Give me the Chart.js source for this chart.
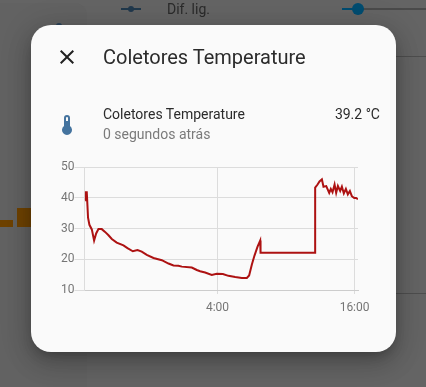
<!DOCTYPE html>
<html>
<head>
<meta charset="utf-8">
<script src="https://cdn.jsdelivr.net/npm/chart.js@4"></script>
<style>
  html, body { margin: 0; width: 426px; height: 387px; overflow: hidden; background: #646464; font-family: Roboto, sans-serif; }
  .abs { position: absolute; white-space: nowrap; }
  #dialog { position: absolute; left: 31px; top: 25px; width: 365px; height: 327px; background: #fafafa; border-radius: 20px;
    box-shadow: 0 6px 12px -4px rgba(0,0,0,.26), 0 12px 24px 2px rgba(0,0,0,.14), 0 4px 30px 4px rgba(0,0,0,.12); }
  #bgcard { position: absolute; left: -20px; top: 3px; width: 107px; height: 400px; background: #626262; border-radius: 12px; }
  #wrap { position: absolute; left: 40px; top: 150px; width: 340px; height: 170px; }
</style>
</head>
<body>
<div id="bgcard"></div>
<svg class="abs" style="left:47px;top:21px" width="24" height="24" viewBox="0 0 24 24"><path fill="#2a4258" d="M15 13V5A3 3 0 0 0 9 5V13A5 5 0 1 0 15 13Z"/></svg>
<div class="abs" style="left:121px;top:8px;width:20px;height:2px;background:#20384c"></div>
<div class="abs" style="left:128px;top:6px;width:6px;height:6px;border-radius:50%;background:#20384c"></div>
<div class="abs" style="left:167px;top:0;font-size:14px;line-height:18px;color:#2a2a2a">Dif. lig.</div>
<div class="abs" style="left:342px;top:8px;width:84px;height:2px;background:#4a4a4a"></div>
<div class="abs" style="left:342px;top:8px;width:16px;height:2px;background:#004c70"></div>
<div class="abs" style="left:352px;top:3px;width:12px;height:12px;border-radius:50%;background:#004c70"></div>
<div class="abs" style="left:396px;top:56px;width:30px;height:1px;background:#4e4e4e"></div>
<div class="abs" style="left:396px;top:293px;width:30px;height:1px;background:#4e4e4e"></div>
<div class="abs" style="left:0;top:220px;width:13px;height:7px;background:#6e4200"></div>
<div class="abs" style="left:17px;top:208px;width:14px;height:19px;background:#6e4200"></div>

<div id="dialog"></div>
<svg class="abs" style="left:55px;top:45px" width="24" height="24" viewBox="0 0 24 24"><path fill="#212121" d="M19,6.41L17.59,5L12,10.59L6.41,5L5,6.41L10.59,12L5,17.59L6.41,19L12,13.41L17.59,19L19,17.59L13.41,12L19,6.41Z"/></svg>
<div class="abs" style="left:103px;top:45px;font-size:20px;line-height:24px;color:#2b2b2b">Coletores Temperature</div>
<svg class="abs" style="left:55px;top:113px" width="24" height="24" viewBox="0 0 24 24"><path fill="#44739e" d="M15 13V5A3 3 0 0 0 9 5V13A5 5 0 1 0 15 13M12 4A1 1 0 0 1 13 5V8H11V5A1 1 0 0 1 12 4Z"/></svg>
<div class="abs" style="left:103px;top:104px;font-size:14px;line-height:20px;color:#2b2b2b">Coletores Temperature</div>
<div class="abs" style="left:103px;top:124px;font-size:14px;line-height:20px;color:#7a7a7a">0 segundos atrás</div>
<div class="abs" style="right:46px;top:104px;font-size:14px;line-height:20px;color:#2b2b2b">39.2 °C</div>

<div id="wrap"><canvas id="myChart" width="340" height="170"></canvas></div>
<script>
// hours counted from midnight of the day before (28 = 4:00, 40 = 16:00)
var hours = [16.41,16.47,16.56,16.62,16.67,16.79,17.0,17.2,17.38,17.58,17.87,18.16,18.46,18.75,19.18,19.77,20.12,20.59,21.0,21.37,21.81,22.4,23.13,23.71,24.15,24.58,24.88,25.75,26.19,26.48,26.92,27.5,27.94,28.47,28.96,29.55,30.13,30.57,30.77,31.01,31.24,31.5,31.74,31.77,36.55,36.55,36.76,36.93,37.14,37.28,37.52,37.78,37.92,38.07,38.25,38.39,38.54,38.74,38.89,39.06,39.24,39.41,39.59,39.76,39.97,40.14,40.29];
var temps = [39.2,41.8,41.8,37.3,33.5,31.2,29.7,26.1,28.4,29.8,29.8,28.9,27.8,26.6,25.4,24.5,23.6,22.6,23,22.5,21.4,20.4,19.7,18.6,18,17.9,17.6,17.3,16.5,16.1,15.7,14.9,15.3,15.2,14.6,14.2,13.9,13.9,14.7,18.3,21.2,24,26.1,22.1,22.1,43.3,44.3,45.3,46,43.6,43.8,41.6,42.9,41.8,44.3,41.6,43.8,42.2,43.6,41.4,42.9,41.1,42.2,40.5,39.9,39.9,39.5];
var yTicks = [10,20,30,40,50];
var xTicks = [28,40];

var points = [];
for (var i = 0; i < hours.length; i++) {
  points.push({x: hours[i], y: temps[i]});
}

var ctx = document.getElementById('myChart').getContext('2d');
var chart = new Chart(ctx, {
  type: 'line',
  data: {
    datasets: [{
      label: 'Coletores Temperature',
      data: points,
      borderColor: '#ad1212',
      borderWidth: 2,
      pointRadius: 0,
      tension: 0,
      fill: false
    }]
  },
  options: {
    responsive: false,
    animation: false,
    layout: { padding: { top: 17, right: 22, left: 0, bottom: 0 } },
    plugins: { legend: { display: false }, tooltip: { enabled: false } },
    scales: {
      x: {
        type: 'linear',
        min: 16.36,
        max: 40.3,
        afterBuildTicks: function(axis) { axis.ticks = xTicks.map(function(v) { return {value: v}; }); },
        afterFit: function(axis) { axis.height = 30; },
        ticks: {
          autoSkip: false,
          maxRotation: 0,
          color: '#757575',
          font: { family: 'Roboto', size: 12 },
          padding: 7,
          callback: function(v) { return (v % 24) + ':00'; }
        },
        grid: { color: '#dcdcdc', tickLength: 4 },
        border: { color: '#cccccc' }
      },
      y: {
        min: 10,
        max: 50,
        afterBuildTicks: function(axis) { axis.ticks = yTicks.map(function(v) { return {value: v}; }); },
        afterFit: function(axis) { axis.width = 44.5; },
        ticks: { color: '#757575', font: { family: 'Roboto', size: 12 }, padding: 0 },
        grid: { color: '#dcdcdc', tickLength: 10 },
        border: { color: '#dcdcdc' }
      }
    }
  }
});
</script>
</body>
</html>
